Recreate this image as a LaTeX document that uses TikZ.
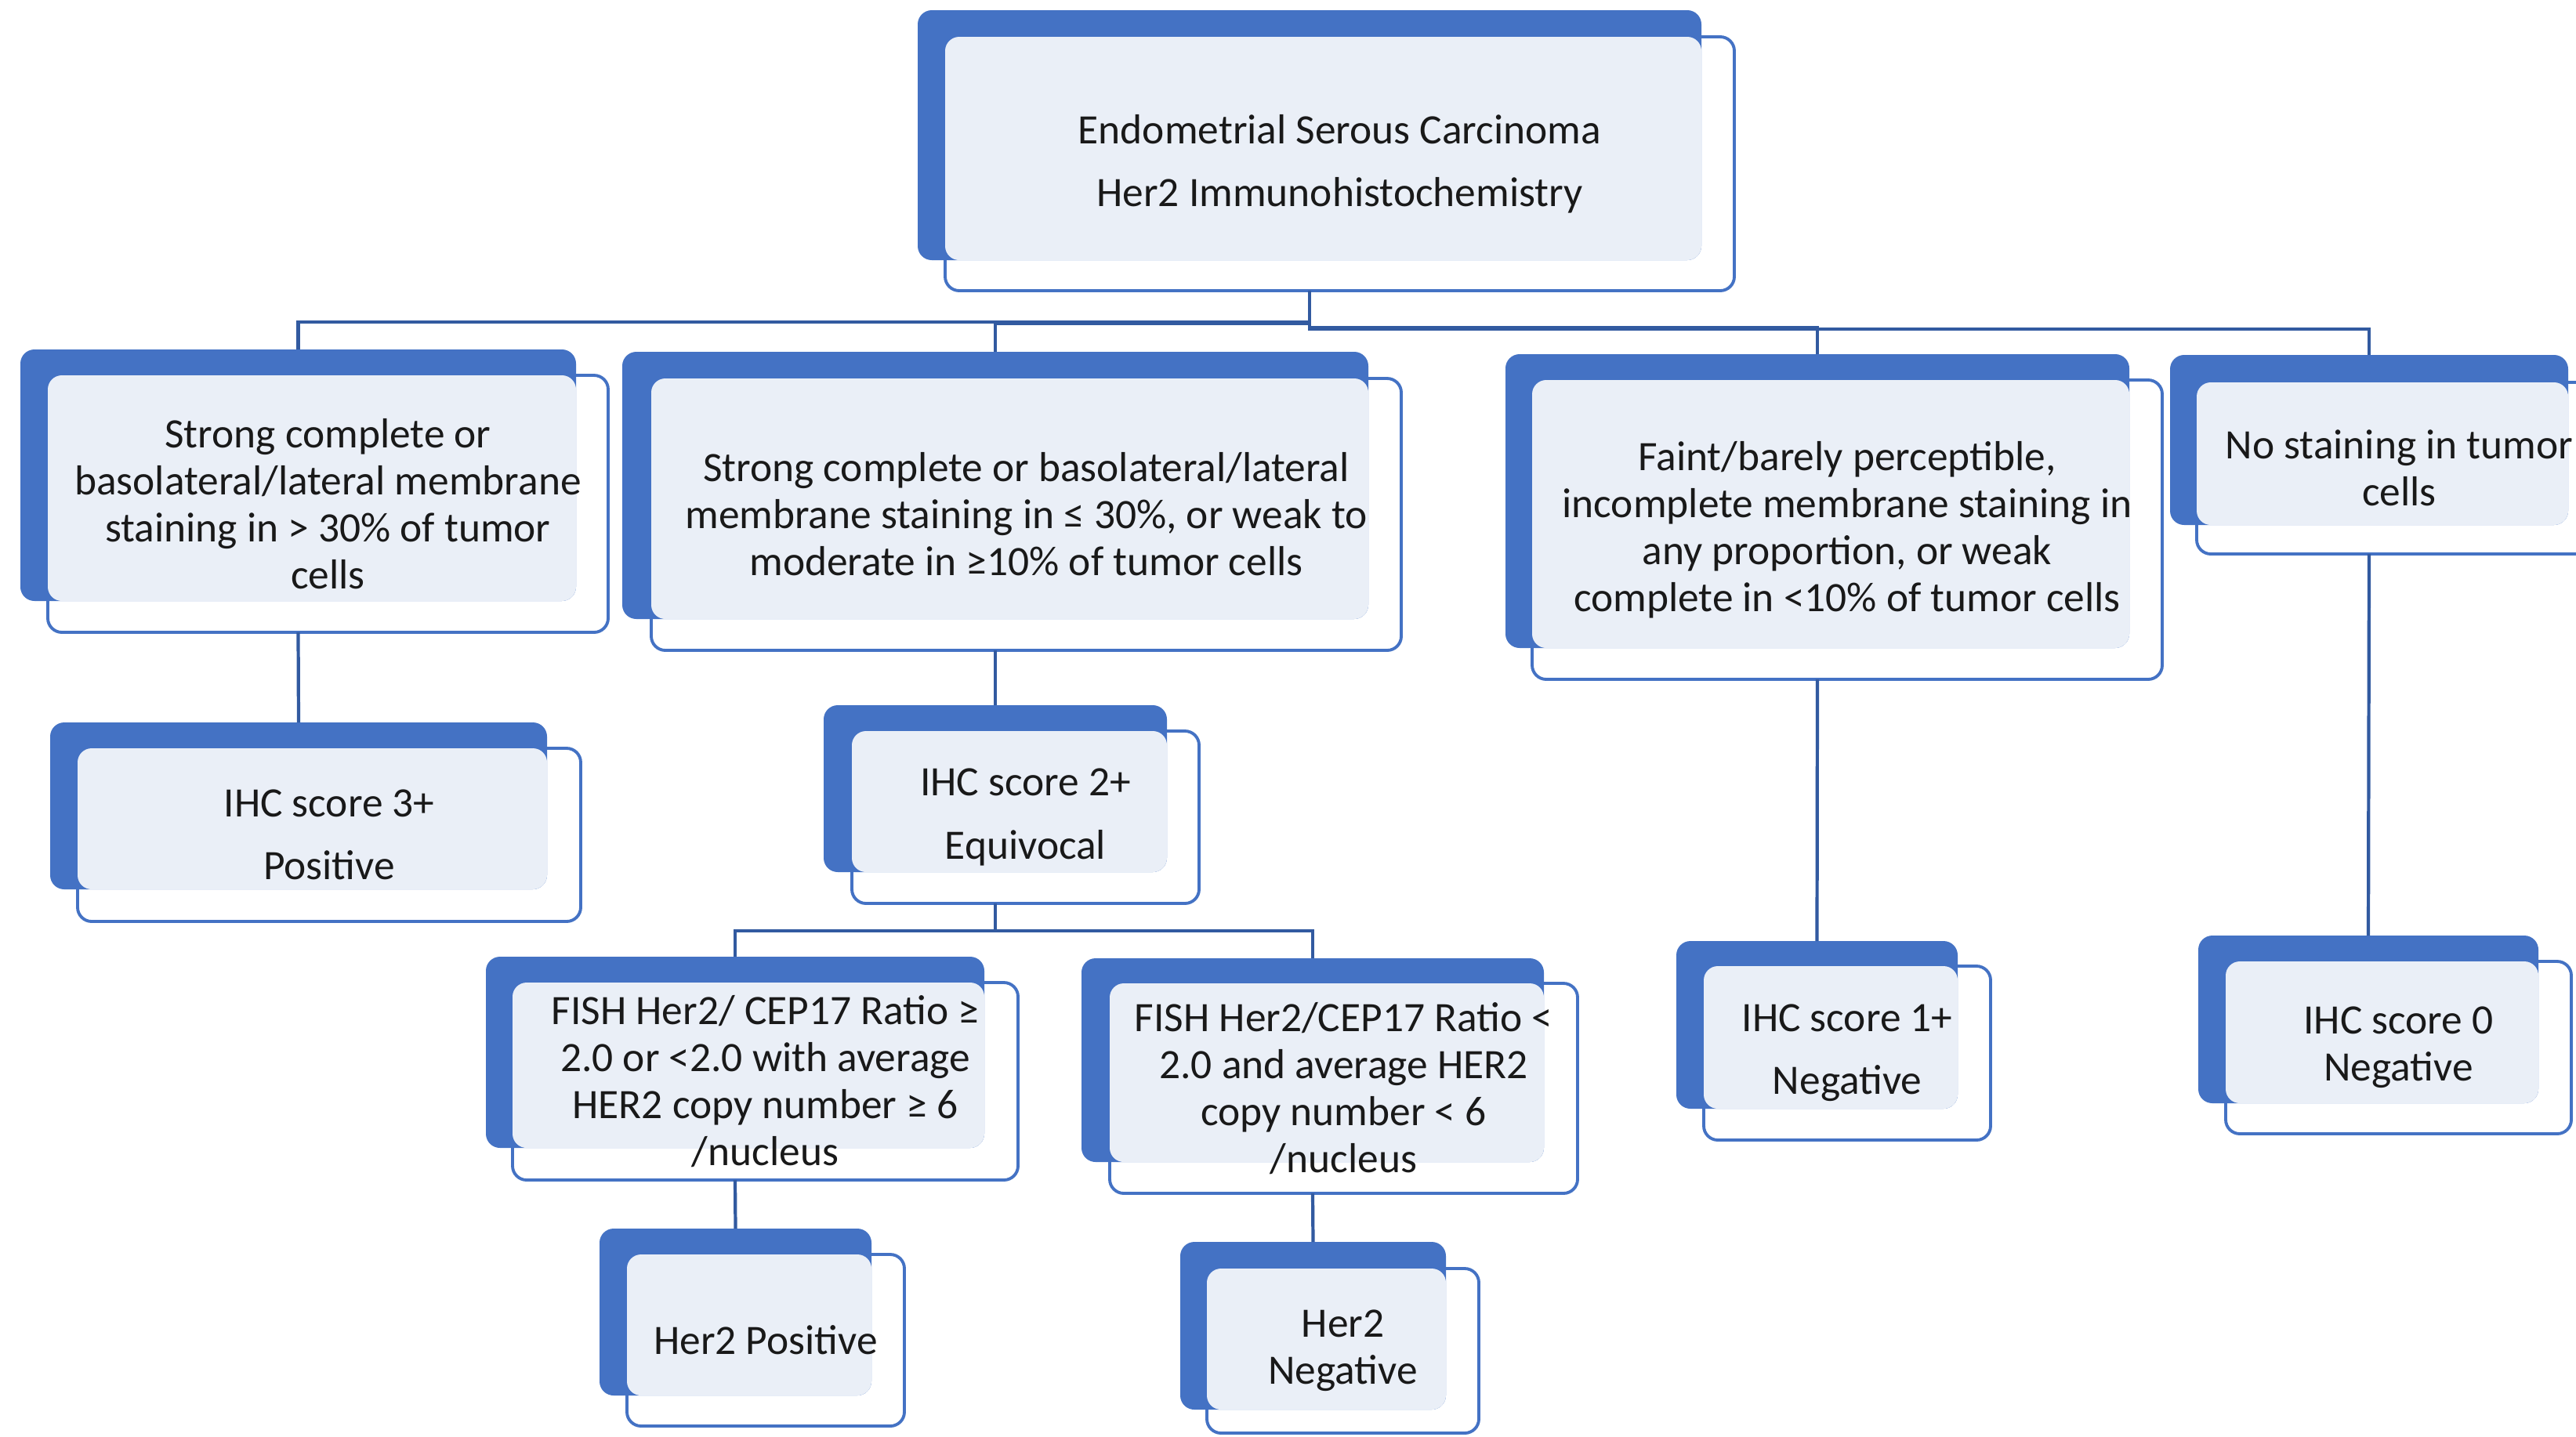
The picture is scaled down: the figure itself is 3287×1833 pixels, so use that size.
\documentclass[tikz,border=0pt]{standalone}
\usepackage{fontspec}
\setmainfont{Carlito}
\usetikzlibrary{fit}
\definecolor{backblue}{RGB}{68,114,196}
\definecolor{lightfill}{RGB}{234,239,247}
\definecolor{connblue}{RGB}{50,90,160}
\tikzset{
  frontbox/.style={rectangle, rounded corners=1.8mm, draw=backblue, line width=1.1pt, fill=white, inner sep=0pt, outer sep=0pt},
  backbox/.style={rectangle, rounded corners=1.8mm, fill=backblue, inner sep=0pt, outer sep=0pt},
  lightbox/.style={fill=lightfill, rounded corners=1.8mm},
  txt/.style={align=center, inner sep=0pt, text=black!90, font=\fontsize{15.2pt}{17.1pt}\selectfont},
  conn/.style={draw=connblue, line width=1.2pt}
}
\newcommand\dbox[6]{%
  \node[frontbox, fit={(#4) (#5)}] (f#1) {};
  \node[backbox, fit={(#2) (#3)}] (b#1) {};
  \path[lightbox] (f#1.north west) rectangle (b#1.south east);
  \node[txt] (t#1) at (f#1.center) {#6};
}
\begin{document}
\begin{tikzpicture}[x=0.1mm, y=-0.1mm]
\clip (0,0) rectangle (3287,1833);
\fill[white] (0,0) rectangle (3287,1833);

\dbox{root}{1171,13}{2171,332}{1206,47}{2213,371}{Endometrial Serous Carcinoma\\[5.7pt]Her2 Immunohistochemistry}
\dbox{A}{26,446}{735,767}{61,479}{776,807}{Strong complete or\\basolateral/lateral membrane\\staining in > 30\% of tumor\\cells}
\dbox{B}{794,449}{1746,790}{831,483}{1788,830}{Strong complete or basolateral/lateral\\membrane staining in ≤ 30\%, or weak to\\moderate in ≥10\% of tumor cells}
\dbox{C}{1921,452}{2717,827}{1955,485}{2759,867}{Faint/barely perceptible,\\incomplete membrane staining in\\any proportion, or weak\\complete in <10\% of tumor cells}
\dbox{D}{2769,453}{3277,670}{2803,488}{3320,707}{No staining in tumor\\cells}
\dbox{Aa}{64,922}{698,1135}{99,955}{741,1176}{IHC score 3+\\[5.7pt]Positive}
\dbox{Ba}{1051,900}{1489,1113}{1087,933}{1530,1153}{IHC score 2+\\[5.7pt]Equivocal}
\dbox{Ca}{2139,1201}{2498,1415}{2174,1233}{2540,1455}{IHC score 1+\\[5.7pt]Negative}
\dbox{Da}{2805,1194}{3239,1408}{2840,1227}{3281,1447}{IHC score 0\\Negative}
\dbox{Bb}{620,1221}{1256,1465}{654,1254}{1299,1506}{FISH Her2/ CEP17 Ratio ≥\\2.0 or <2.0 with average\\HER2 copy number ≥ 6\\/nucleus}
\dbox{Bc}{1380,1223}{1970,1483}{1416,1255}{2013,1523}{FISH Her2/CEP17 Ratio <\\2.0 and average HER2\\copy number < 6\\/nucleus}
\dbox{Bd}{765,1568}{1112,1781}{800,1601}{1154,1820}{Her2 Positive}
\dbox{Be}{1506,1585}{1845,1799}{1540,1619}{1887,1829}{Her2\\Negative}

% connectors
\draw[conn] (broot.south |- froot.south) |- (bA.north |- 0,411) -- (bA.north);
\draw[conn] (broot.south |- froot.south) |- (bB.north |- 0,413) -- (bB.north);
\draw[conn] (broot.south |- froot.south) |- (bC.north |- 0,418) -- (bC.north);
\draw[conn] (broot.south |- froot.south) |- (bD.north |- 0,420) -- (bD.north);
\draw[conn] (bA.south |- fA.south) -- (bAa.north);
\draw[conn] (bB.south |- fB.south) -- (bBa.north);
\draw[conn] (bC.south |- fC.south) -- (bCa.north);
\draw[conn] (bD.south |- fD.south) -- (bDa.north);
\draw[conn] (bBa.south |- fBa.south) |- (bBb.north |- 0,1188) -- (bBb.north);
\draw[conn] (bBa.south |- fBa.south) |- (bBc.north |- 0,1188) -- (bBc.north);
\draw[conn] (bBb.south |- fBb.south) -- (bBd.north);
\draw[conn] (bBc.south |- fBc.south) -- (bBe.north);
\end{tikzpicture}
\end{document}
